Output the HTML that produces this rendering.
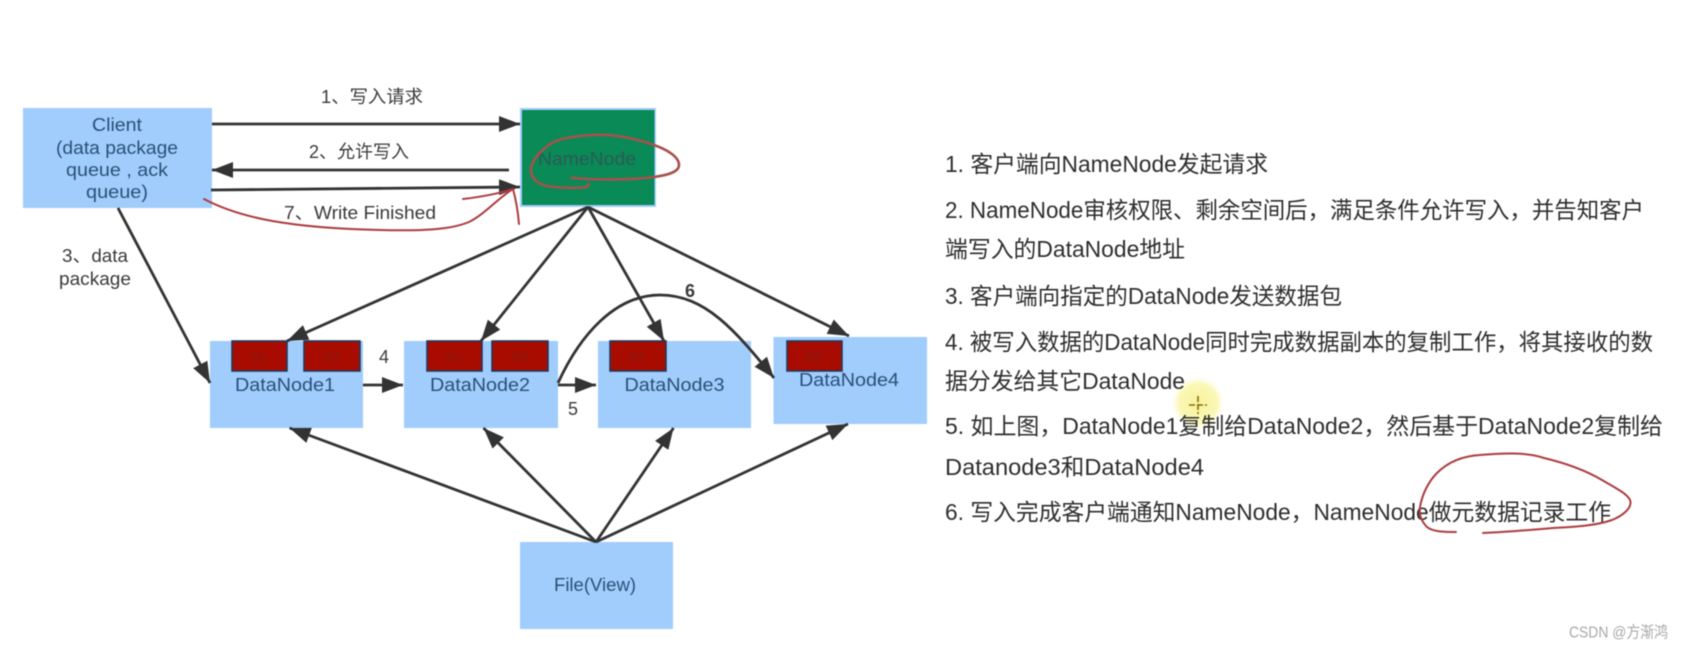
<!DOCTYPE html>
<html lang="zh">
<head>
<meta charset="utf-8">
<title>HDFS 写数据流程</title>
<style>
html,body{margin:0;padding:0;background:#fff;width:1684px;height:650px;overflow:hidden}
svg{display:block;filter:blur(.6px)}
text{font-family:"Liberation Sans","Noto Sans CJK SC",sans-serif;dominant-baseline:central}
.d{font-size:18px;fill:#3a3a3a;text-anchor:middle}
.n{font-size:18px;fill:#2a5078;text-anchor:middle}
.r{font-size:23px;fill:#2e2e2e}
.b{font-size:14px;fill:#8a1a14;text-anchor:middle}
.a{stroke:#333;stroke-width:2.8;fill:none;marker-end:url(#h)}
.red{stroke:#ad3c40;stroke-width:2;fill:none;stroke-linecap:round;stroke-linejoin:round}
.blk{fill:#a80c00;stroke:#1f3a5f;stroke-width:1.6}
.box{fill:#a0cdfc}
</style>
</head>
<body>
<svg width="1684" height="650" viewBox="0 0 1684 650" xmlns="http://www.w3.org/2000/svg">
<defs>
<marker id="h" markerUnits="userSpaceOnUse" markerWidth="21" markerHeight="16" refX="21" refY="8" orient="auto">
<path d="M0,0 L21,8 L0,16 Z" fill="#333"/>
</marker>
<radialGradient id="y">
<stop offset="0" stop-color="#f7f39a"/>
<stop offset=".7" stop-color="#fbf8b8"/>
<stop offset="1" stop-color="#fff" stop-opacity="0"/>
</radialGradient>
</defs>
<rect width="1684" height="650" fill="#fff"/>

<rect class="box" x="23" y="108" width="189" height="100"/>
<rect x="520" y="108" width="136" height="99" fill="#a0cdfc"/>
<rect x="522" y="110" width="132.500" height="95" fill="#0a8a57"/>
<rect class="box" x="210" y="341" width="153" height="87"/>
<rect class="box" x="404" y="341" width="154" height="87"/>
<rect class="box" x="598" y="341" width="153" height="87"/>
<rect class="box" x="773.500" y="337" width="153.500" height="87"/>
<rect class="box" x="520" y="542" width="153" height="87"/>

<rect class="blk" x="232" y="341" width="55" height="30"/>
<rect class="blk" x="304" y="341" width="56" height="30"/>
<rect class="blk" x="427" y="341" width="55" height="30"/>
<rect class="blk" x="492" y="341" width="56" height="30"/>
<rect class="blk" x="610" y="341" width="56" height="30"/>
<rect class="blk" x="787" y="341" width="55" height="30"/>
<text class="b" x="259" y="356">b1</text>
<text class="b" x="332" y="356">b2</text>
<text class="b" x="454" y="356">b1</text>
<text class="b" x="520" y="356">b2</text>
<text class="b" x="638" y="356">b1</text>
<text class="b" x="814" y="356">b3</text>

<line class="a" x1="212" y1="124" x2="520" y2="124"/>
<line class="a" x1="509" y1="170" x2="212" y2="170"/>
<line class="a" x1="211" y1="190" x2="520" y2="187"/>
<line class="a" x1="118" y1="208" x2="210" y2="383"/>
<line class="a" x1="588" y1="207" x2="287" y2="341"/>
<line class="a" x1="588" y1="207" x2="481" y2="341"/>
<line class="a" x1="588" y1="207" x2="664" y2="341"/>
<line class="a" x1="588" y1="207" x2="849" y2="336"/>
<line class="a" x1="363" y1="385" x2="403" y2="385"/>
<line class="a" x1="558" y1="385" x2="596" y2="385"/>
<path class="a" d="M558,383 C580,335 615,295 660,295 C705,295 735,330 774,378"/>
<line class="a" x1="596" y1="542" x2="289.500" y2="428"/>
<line class="a" x1="596" y1="542" x2="483.500" y2="428"/>
<line class="a" x1="596" y1="542" x2="673.500" y2="428"/>
<line class="a" x1="596" y1="542" x2="848" y2="424"/>

<text class="n" x="117" y="125" textLength="50" lengthAdjust="spacingAndGlyphs">Client</text>
<text class="n" x="117" y="148" textLength="122" lengthAdjust="spacingAndGlyphs">(data package</text>
<text class="n" x="117" y="170" textLength="102" lengthAdjust="spacingAndGlyphs">queue , ack</text>
<text class="n" x="117" y="192" textLength="62" lengthAdjust="spacingAndGlyphs">queue)</text>
<text class="n" x="587" y="159" style="fill:#2c5a55" textLength="98" lengthAdjust="spacingAndGlyphs">NameNode</text>
<text class="n" x="285" y="385" textLength="100" lengthAdjust="spacingAndGlyphs">DataNode1</text>
<text class="n" x="480" y="385" textLength="100" lengthAdjust="spacingAndGlyphs">DataNode2</text>
<text class="n" x="674.500" y="385" textLength="100" lengthAdjust="spacingAndGlyphs">DataNode3</text>
<text class="n" x="849" y="380" textLength="100" lengthAdjust="spacingAndGlyphs">DataNode4</text>
<text class="n" x="595" y="585" textLength="82" lengthAdjust="spacingAndGlyphs">File(View)</text>

<text class="d" x="372" y="97" textLength="102" lengthAdjust="spacingAndGlyphs">1、写入请求</text>
<text class="d" x="359" y="152" textLength="100" lengthAdjust="spacingAndGlyphs">2、允许写入</text>
<text class="d" x="360" y="213" textLength="152" lengthAdjust="spacingAndGlyphs">7、Write Finished</text>
<text class="d" x="95" y="256" textLength="66" lengthAdjust="spacingAndGlyphs">3、data</text>
<text class="d" x="95" y="279" textLength="72" lengthAdjust="spacingAndGlyphs">package</text>
<text class="d" x="384" y="357">4</text>
<text class="d" x="573" y="409">5</text>
<text class="d" x="690" y="291" style="font-weight:bold">6</text>

<path class="red" d="M204,199 C240,218 290,228 380,230 C420,231 450,230 469,222 C485,214 498,198 513,189"/>
<path class="red" d="M463,199 C480,197 497,194 513,189 C516,200 518,212 519,224"/>
<path class="red" style="stroke:#a9504c;stroke-width:2.6" d="M571,178 C600,180 630,180 654,177 C668,175 679,172 679,165 C679,157 668,150 654,145 C635,138 612,134 594,135 C575,136 558,138 549,145 C538,153 531,162 531,170 C531,180 540,186 554,187 C565,188 578,188 587,187 L589,184"/>

<text class="r" x="945" y="164" textLength="323" lengthAdjust="spacingAndGlyphs">1. 客户端向NameNode发起请求</text>
<text class="r" x="945" y="210" textLength="699" lengthAdjust="spacingAndGlyphs">2. NameNode审核权限、剩余空间后，满足条件允许写入，并告知客户</text>
<text class="r" x="945" y="249" textLength="240" lengthAdjust="spacingAndGlyphs">端写入的DataNode地址</text>
<text class="r" x="945" y="296" textLength="397" lengthAdjust="spacingAndGlyphs">3. 客户端向指定的DataNode发送数据包</text>
<text class="r" x="945" y="342" textLength="708" lengthAdjust="spacingAndGlyphs">4. 被写入数据的DataNode同时完成数据副本的复制工作，将其接收的数</text>

<circle cx="1198" cy="403" r="28" fill="url(#y)"/>

<text class="r" x="945" y="381" textLength="240" lengthAdjust="spacingAndGlyphs">据分发给其它DataNode</text>
<text class="r" x="945" y="426" textLength="718" lengthAdjust="spacingAndGlyphs">5. 如上图，DataNode1复制给DataNode2，然后基于DataNode2复制给</text>
<text class="r" x="945" y="467" textLength="259" lengthAdjust="spacingAndGlyphs">Datanode3和DataNode4</text>
<text class="r" x="945" y="512" textLength="666" lengthAdjust="spacingAndGlyphs">6. 写入完成客户端通知NameNode，NameNode做元数据记录工作</text>

<path d="M1198,396 V414 M1189,405 H1207" stroke="#8a6a10" stroke-width="1.600" fill="none" stroke-dasharray="6 2"/>

<path class="red" d="M1456,532 C1445,532 1433,532 1427,527 C1421,521 1419,514 1420,507 C1422,495 1428,482 1437,473 C1448,462 1463,456 1480,455 C1503,453 1526,452 1544,458 C1565,463 1585,470 1602,480 C1617,489 1630,495 1630.500,502 C1631,509 1622,516 1612,520 C1595,526 1572,527 1553,528 C1530,530 1505,532 1483,533"/>

<text x="1569" y="633" style="font-size:16px;fill:#a8a8a8" textLength="99" lengthAdjust="spacingAndGlyphs">CSDN @方渐鸿</text>
</svg>
</body>
</html>
